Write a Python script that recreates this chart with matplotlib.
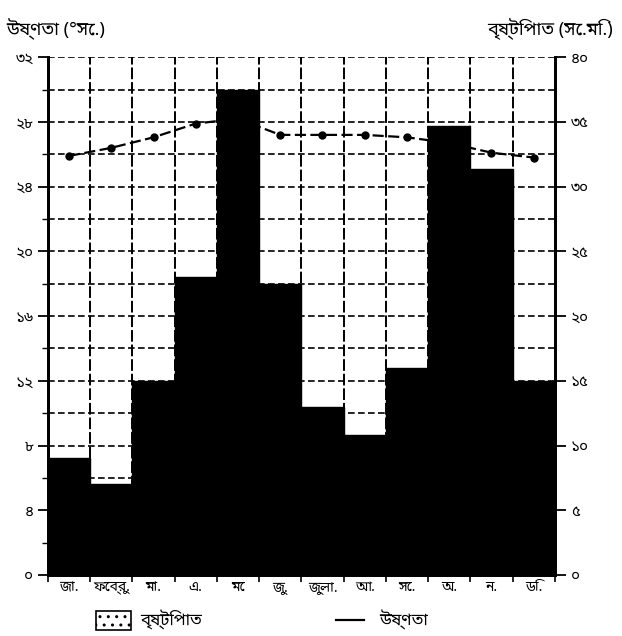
import matplotlib
matplotlib.use("Agg")
import matplotlib.pyplot as plt
from matplotlib import font_manager as fm
from matplotlib.ft2font import FT2Font
from matplotlib.patches import Rectangle
from matplotlib.lines import Line2D
import numpy as np

# ---------------- data ----------------
months = ["জা.", "ফেব্রু.", "মা.", "এ.", "মে", "জু.", "জুলা.", "আ.", "সে.", "অ.", "ন.", "ডি."]
rainfall_cm = [9, 7, 15, 23, 37.5, 22.5, 13, 10.8, 16, 34.7, 31.4, 15]
temperature_c = [25.9, 26.4, 27.05, 27.9, 28.2, 27.2, 27.2, 27.2, 27.05, 26.7, 26.1, 25.8]
temp_ticks = [0, 4, 8, 12, 16, 20, 24, 28, 32]
temp_tick_labels = ["০", "৪", "৮", "১২", "১৬", "২০", "২৪", "২৮", "৩২"]
rain_ticks = [0, 5, 10, 15, 20, 25, 30, 35, 40]
rain_tick_labels = ["০", "৫", "১০", "১৫", "২০", "২৫", "৩০", "৩৫", "৪০"]
temp_title = "উষ্ণতা (°সে.)"
rain_title = "বৃষ্টিপাত (সে.মি.)"
legend_rain = "বৃষ্টিপাত"
legend_temp = "উষ্ণতা"

# ---------------- font: find one that covers Bengali ----------------
beng_font = None
preferred = ["Noto Sans Bengali", "Noto Serif Bengali", "Lohit Bengali", "FreeSans", "FreeSerif"]
cands = []
for f in fm.fontManager.ttflist:
    try:
        ft = FT2Font(f.fname)
        if 0x0995 in ft.get_charmap():
            cands.append(f.name)
    except Exception:
        pass
for p in preferred:
    if p in cands:
        beng_font = p
        break
if beng_font is None and cands:
    beng_font = cands[0]
families = ([beng_font] if beng_font else []) + ["DejaVu Sans"]
plt.rcParams["font.family"] = families

# ---------------- figure ----------------
fig = plt.figure(figsize=(6.22, 6.36), dpi=100)
ax = fig.add_axes([0.077, 0.096, 0.815, 0.814])
ax2 = ax.twinx()

x = np.arange(len(months))

# temperature line (under the bars)
ax.plot(x, temperature_c, color="black", lw=1.6, ls=(0, (5, 2)), marker="o",
        markersize=5, zorder=3)
ax.set_ylim(0, 32)
ax.set_yticks(temp_ticks)
ax.set_yticklabels(temp_tick_labels, fontsize=11, fontweight="bold")
ax.set_yticks(np.arange(0, 33, 2), minor=True)
ax.grid(which="both", axis="y", color="black", ls=(0, (4, 2)), lw=1.2, zorder=1)

ax.set_xlim(-0.5, len(months) - 0.5)
ax.set_xticks(np.arange(-0.5, len(months)), labels=[""] * (len(months) + 1))
ax.set_xticks(x, labels=months, minor=True)
ax.tick_params(axis="x", which="minor", length=0, labelsize=10, pad=4)
ax.tick_params(axis="x", which="major", length=5, direction="out", width=1.2)
ax.grid(which="major", axis="x", color="black", ls=(0, (6, 1.5)), lw=1.4, zorder=1)
for lab in ax.get_xticklabels(minor=True):
    lab.set_fontweight("bold")
ax.tick_params(axis="y", which="major", length=7, width=1.3, direction="out")
ax.tick_params(axis="y", which="minor", length=4, width=1.0, direction="out")

# rainfall bars (on top)
ax2.bar(x, rainfall_cm, width=1.0, color="black", edgecolor="black", zorder=2)
ax2.set_ylim(0, 40)
ax2.set_yticks(rain_ticks)
ax2.set_yticklabels(rain_tick_labels, fontsize=11, fontweight="bold")
ax2.tick_params(axis="y", length=8, width=1.3, direction="out")

for a in (ax, ax2):
    a.spines["top"].set_visible(False)
    a.spines["left"].set_linewidth(2)
    a.spines["right"].set_linewidth(2)
    a.spines["bottom"].set_linewidth(2)

# axis titles
fig.text(0.01, 0.955, temp_title, fontsize=13, fontweight="bold", ha="left", va="center")
fig.text(0.985, 0.955, rain_title, fontsize=13, fontweight="bold", ha="right", va="center")

# legend at the bottom
fig.patches.append(Rectangle((0.155, 0.01), 0.055, 0.03, transform=fig.transFigure,
                             facecolor="white", edgecolor="black", lw=1.2,
                             hatch="..", figure=fig))
fig.text(0.225, 0.025, legend_rain, fontsize=12, fontweight="bold", ha="left", va="center")
fig.lines.append(Line2D([0.54, 0.585], [0.025, 0.025], transform=fig.transFigure,
                        color="black", lw=1.6, figure=fig))
fig.text(0.61, 0.025, legend_temp, fontsize=12, fontweight="bold", ha="left", va="center")

fig.savefig("out.png", dpi=100)
